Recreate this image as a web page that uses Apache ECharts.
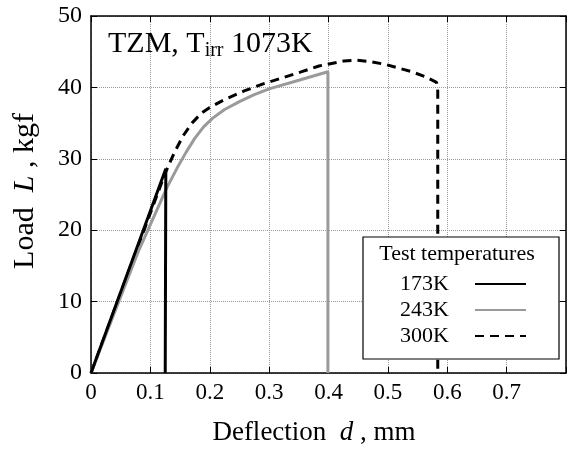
<!DOCTYPE html>
<html><head><meta charset="utf-8">
<script src="https://cdn.jsdelivr.net/npm/echarts@6/dist/echarts.min.js"></script>
<style>html,body{margin:0;padding:0;background:#fff}#c{width:569px;height:450px}</style>
</head><body><div id="c"></div>
<script>
const FONT = 'Liberation Serif';
const seriesNames = ['173K', '243K', '300K'];
const xTickLabels = ['0', '0.1', '0.2', '0.3', '0.4', '0.5', '0.6', '0.7', ''];
const yTickLabels = ['0', '10', '20', '30', '40', '50'];
// [deflection mm, load kgf]
const d173 = [[0, 0], [0.126, 28.6], [0.125, 0]];
const d243 = [[0, 0], [0.079, 16.9], [0.128, 26.0], [0.145, 28.7], [0.16, 30.9], [0.175, 32.9], [0.19, 34.5], [0.205, 35.7], [0.225, 36.9], [0.25, 38.0], [0.275, 39.0], [0.3, 39.8], [0.35, 41.0], [0.399, 42.2], [0.399, 0]];
const d300 = [[0, 0], [0.125, 28.0], [0.14, 30.8], [0.155, 33.2], [0.17, 35.0], [0.186, 36.4], [0.2, 37.2], [0.225, 38.3], [0.258, 39.5], [0.29, 40.5], [0.325, 41.4], [0.355, 42.2], [0.384, 43.0], [0.426, 43.7], [0.448, 43.8], [0.471, 43.6], [0.497, 43.2], [0.518, 42.7], [0.54, 42.2], [0.563, 41.5], [0.582, 40.7], [0.584, 39.5], [0.584, 0]];

const chart = echarts.init(document.getElementById('c'), null, {renderer: 'canvas'});
const axisLine = {show: true, onZero: false, lineStyle: {color: '#000', width: 1.5}};
const axisTick = {show: true, inside: true, length: 6, lineStyle: {color: '#000', width: 1}};
const split = {show: true, lineStyle: {color: '#999', type: 'dotted', width: 1}};
const xBase = {type: 'value', min: 0, max: 0.8, interval: 0.1};
const yBase = {type: 'value', min: 0, max: 50, interval: 10};

chart.setOption({
  animation: false,
  backgroundColor: '#fff',
  textStyle: {fontFamily: FONT, color: '#000'},
  grid: {left: 91, right: 1, top: 16, bottom: 77, containLabel: false},
  xAxis: [
    Object.assign({}, xBase, {position: 'bottom', axisLine, axisTick, splitLine: split,
      axisLabel: {fontFamily: FONT, fontSize: 23, color: '#000', margin: 8,
        formatter: (v, i) => xTickLabels[i]}}),
    Object.assign({}, xBase, {position: 'top', axisLine, axisTick, splitLine: {show: false},
      axisLabel: {show: false}})
  ],
  yAxis: [
    Object.assign({}, yBase, {position: 'left', axisLine, axisTick, splitLine: split,
      axisLabel: {fontFamily: FONT, fontSize: 24, color: '#000', margin: 9,
        formatter: (v, i) => yTickLabels[i]}}),
    Object.assign({}, yBase, {position: 'right', axisLine, axisTick, splitLine: {show: false},
      axisLabel: {show: false}})
  ],
  legend: {
    data: seriesNames, orient: 'vertical', right: 42, top: 273, align: 'right',
    itemWidth: 51, itemHeight: 14, itemGap: 4, padding: 0, z: 120,
    itemStyle: {opacity: 0},
    textStyle: {fontFamily: FONT, fontSize: 22, color: '#000', padding: [0, 21, 0, 0]}
  },
  series: [
    {name: '300K', type: 'line', data: d300, showSymbol: false, symbol: 'none',
      lineStyle: {color: '#000', width: 3, type: [9, 6]}, itemStyle: {color: '#000', opacity: 0}},
    {name: '243K', type: 'line', data: d243, showSymbol: false, symbol: 'none',
      lineStyle: {color: '#9a9a9a', width: 3}, itemStyle: {color: '#9a9a9a', opacity: 0}},
    {name: '173K', type: 'line', data: d173, showSymbol: false, symbol: 'none',
      lineStyle: {color: '#000', width: 3}, itemStyle: {color: '#000', opacity: 0}}
  ],
  graphic: [
    {type: 'rect', x: 363, y: 237, z: 100, shape: {width: 196, height: 122},
      style: {fill: '#fff', stroke: '#000', lineWidth: 1.2}},
    {type: 'text', x: 457, y: 243, z: 110,
      style: {text: 'Test temperatures', font: '22px "Liberation Serif"', fill: '#000', align: 'center', verticalAlign: 'top'}},
    {type: 'text', x: 108, y: 27, z: 110,
      style: {text: '{a|TZM, T}{s|irr}{a| 1073K}', fill: '#000', align: 'left', verticalAlign: 'top',
        rich: {a: {fontFamily: FONT, fontSize: 30, fill: '#000'}, s: {fontFamily: FONT, fontSize: 20, fill: '#000', padding: [14, 0, 0, 0]}}}},
    {type: 'text', x: 314, y: 433, z: 110,
      style: {text: '{a|Deflection  }{i|d}{a| , mm}', fill: '#000', align: 'center', verticalAlign: 'middle',
        rich: {a: {fontFamily: FONT, fontSize: 27, fill: '#000'}, i: {fontFamily: FONT, fontSize: 27, fontStyle: 'italic', fill: '#000'}}}},
    {type: 'text', x: 25, y: 191, rotation: Math.PI / 2, z: 110,
      style: {text: '{a|Load  }{i|L}{a| , kgf}', fill: '#000', align: 'center', verticalAlign: 'middle',
        rich: {a: {fontFamily: FONT, fontSize: 30, fill: '#000'}, i: {fontFamily: FONT, fontSize: 30, fontStyle: 'italic', fill: '#000'}}}}
  ]
});
</script>
</body></html>
